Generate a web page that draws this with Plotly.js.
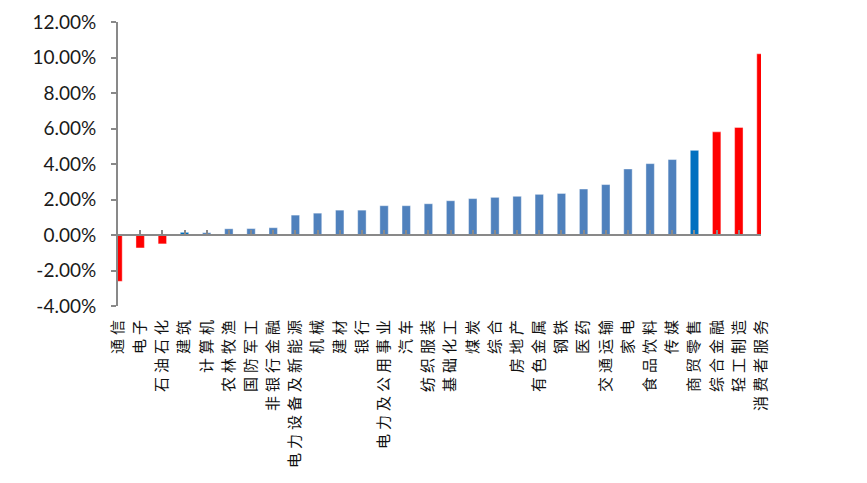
<!DOCTYPE html>
<html>
<head>
<meta charset="utf-8">
<script src="https://cdn.plot.ly/plotly-3.0.1.min.js"></script>
<style>
  body { margin: 0; background: #fff; }
  #chart { width: 867px; height: 483px; }
  .xtick text { letter-spacing: 4px; }
</style>
</head>
<body>
<div id="chart"></div>
<script>
// industry names, sorted by change
const industries = [
  '通信', '电子', '石油石化', '建筑', '计算机', '农林牧渔', '国防军工', '非银行金融',
  '电力设备及新能源', '机械', '建材', '银行', '电力及公用事业', '汽车', '纺织服装',
  '基础化工', '煤炭', '综合', '房地产', '有色金属', '钢铁', '医药', '交通运输', '家电',
  '食品饮料', '传媒', '商贸零售', '综合金融', '轻工制造', '消费者服务'
];

// change in %
const changes = [
  -2.61, -0.73, -0.50, 0.15, 0.13, 0.35, 0.36, 0.41,
  1.12, 1.23, 1.40, 1.40, 1.65, 1.65, 1.76,
  1.93, 2.05, 2.12, 2.18, 2.29, 2.34, 2.59, 2.84, 3.72,
  4.02, 4.25, 4.77, 5.81, 6.06, 10.21
];

const yTicks = [-4, -2, 0, 2, 4, 6, 8, 10, 12];
const yTickLabels = yTicks.map(v => v.toFixed(2) + '%');

// highlighted bars
const redBars = ['通信', '电子', '石油石化', '综合金融', '轻工制造', '消费者服务'];
const darkBars = ['建筑', '商贸零售'];

const barColors = industries.map(name =>
  redBars.includes(name) ? '#FF0000' : darkBars.includes(name) ? '#0070C0' : '#4F81BD'
);

const bars = {
  type: 'bar',
  x: industries,
  y: changes,
  width: 0.38,
  marker: { color: barColors, line: { color: 'rgba(255,255,255,0.5)', width: 0.8 } },
  hovertemplate: '%{x}: %{y:.2f}%<extra></extra>'
};

// carries the category axis that sits on the zero line
const zeroAxisTrace = {
  type: 'scatter', x: industries, y: changes, xaxis: 'x2',
  mode: 'none', hoverinfo: 'skip', showlegend: false
};

const axisGrey = '#898989';
const zeroPos = (0 - yTicks[0]) / (yTicks[yTicks.length - 1] - yTicks[0]);

const layout = {
  width: 867, height: 483,
  margin: { l: 117.5, r: 106, t: 22.3, b: 177.3 },
  paper_bgcolor: '#fff', plot_bgcolor: '#fff',
  showlegend: false, bargap: 0,
  font: { family: 'Lato, "Liberation Sans", sans-serif', color: '#1a1a1a' },
  xaxis: {
    type: 'category', range: [0, industries.length - 1],
    showline: false, showgrid: false, zeroline: false, ticks: '',
    tickangle: -90, ticklabelstandoff: 6,
    tickfont: { family: '"Noto Sans CJK SC", sans-serif', size: 15, color: '#111' }
  },
  xaxis2: {
    type: 'category', overlaying: 'x', matches: 'x', anchor: 'free', position: zeroPos,
    range: [0, industries.length - 1],
    showline: true, linecolor: axisGrey, linewidth: 2,
    ticks: 'inside', ticklen: 4, tickwidth: 2, tickcolor: axisGrey,
    showticklabels: false, showgrid: false, zeroline: false
  },
  yaxis: {
    range: [yTicks[0], yTicks[yTicks.length - 1]],
    tickmode: 'array', tickvals: yTicks, ticktext: yTickLabels,
    showline: true, linecolor: axisGrey, linewidth: 2,
    ticks: 'outside', ticklen: 5, tickwidth: 2, tickcolor: axisGrey,
    ticklabelstandoff: 11,
    showgrid: false, zeroline: false,
    tickfont: { size: 19, color: '#1a1a1a' }
  }
};

Plotly.newPlot('chart', [bars, zeroAxisTrace], layout, { displayModeBar: false, staticPlot: true });
</script>
</body>
</html>
